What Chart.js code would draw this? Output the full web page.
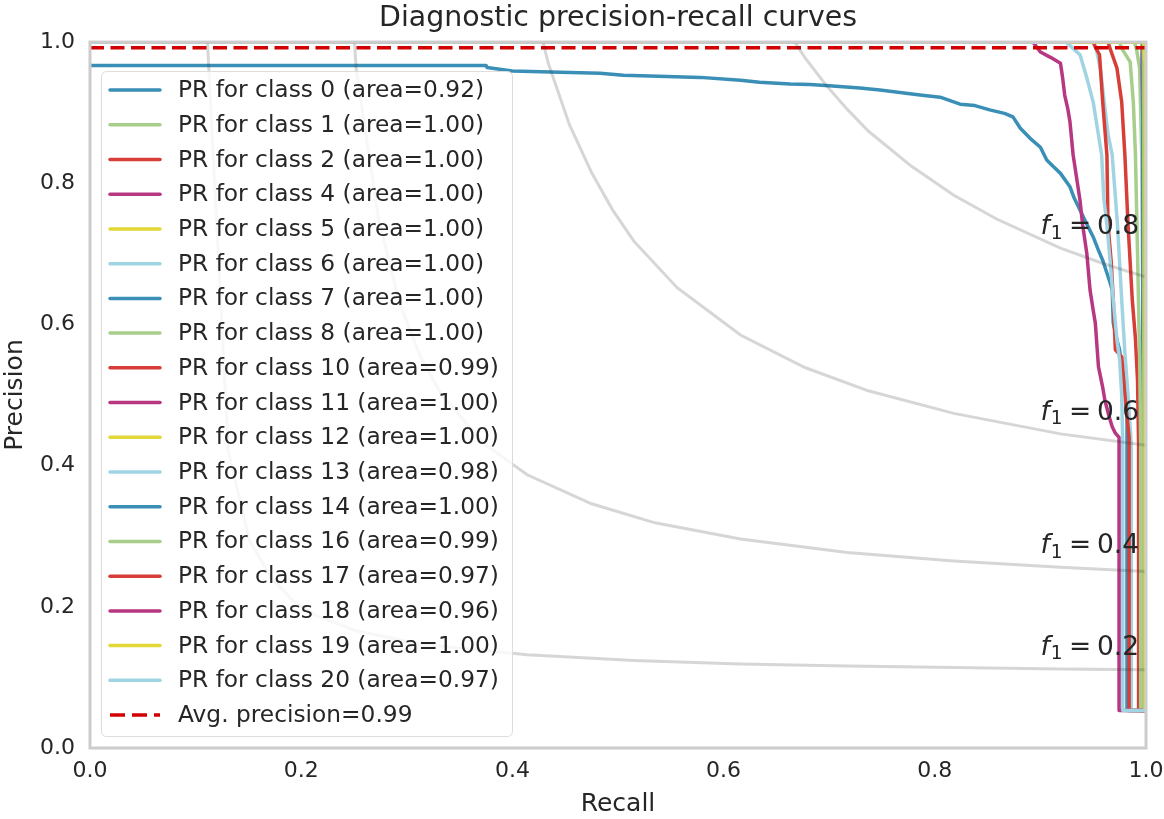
<!DOCTYPE html>
<html>
<head>
<meta charset="utf-8">
<script src="https://cdn.jsdelivr.net/npm/chart.js@4"></script>
<style>
  html, body { margin: 0; padding: 0; background: #fff; }
  #wrap { width: 1164px; height: 819px; position: relative; }
</style>
</head>
<body>
<div id="wrap"><canvas id="chart"></canvas></div>
<script>
// classes shown in the legend, with their reported areas
const classNames = ['0', '1', '2', '4', '5', '6', '7', '8', '10', '11', '12', '13', '14', '16', '17', '18', '19', '20'];
const classAreas = ['0.92', '1.00', '1.00', '1.00', '1.00', '1.00', '1.00', '1.00', '0.99', '1.00', '1.00', '0.98', '1.00', '0.99', '0.97', '0.96', '1.00', '0.97'];

// PR curves (recall, precision)
const pr0Recall = [0, 0.375, 0.376, 0.40, 0.436, 0.483, 0.505, 0.530, 0.578, 0.616, 0.634, 0.663, 0.682, 0.70, 0.729, 0.748, 0.786, 0.805, 0.824, 0.838, 0.852, 0.866, 0.874, 0.881, 0.890, 0.900, 0.906, 0.912, 0.919, 0.928, 0.932, 0.9375, 0.944, 0.950, 0.955, 0.959, 0.966, 0.968, 0.969, 0.9725, 0.975, 0.977, 0.980, 0.982, 0.982, 1.0];
const pr0Precision = [0.967, 0.967, 0.964, 0.959, 0.9575, 0.956, 0.953, 0.952, 0.950, 0.946, 0.943, 0.9405, 0.940, 0.938, 0.935, 0.932, 0.925, 0.922, 0.912, 0.910, 0.904, 0.899, 0.894, 0.878, 0.864, 0.851, 0.833, 0.824, 0.814, 0.795, 0.779, 0.762, 0.742, 0.724, 0.705, 0.691, 0.659, 0.649, 0.602, 0.578, 0.564, 0.535, 0.525, 0.49, 0.053, 0.053];
const pr1Recall = [0, 0.989, 0.991, 0.994, 0.996, 0.997, 0.997, 1.0];
const pr1Precision = [1, 1, 0.99, 0.963, 0.84, 0.6, 0.053, 0.053];
const pr2Recall = [0, 0.998, 0.998, 1.0];
const pr2Precision = [1, 1, 0.053, 0.053];
const pr4Recall = [0, 0.996, 0.997, 0.997, 1.0];
const pr4Precision = [1, 1, 0.89, 0.053, 0.053];
const pr5Recall = [0, 0.996, 0.998, 0.998, 1.0];
const pr5Precision = [1, 1, 0.95, 0.053, 0.053];
const pr6Recall = [0, 0.998, 0.998, 1.0];
const pr6Precision = [1, 1, 0.053, 0.053];
const pr7Recall = [0, 0.997, 0.997, 1.0];
const pr7Precision = [1, 1, 0.053, 0.053];
const pr8Recall = [0, 0.998, 0.998, 1.0];
const pr8Precision = [1, 1, 0.053, 0.053];
const pr10Recall = [0, 0.964, 0.966, 0.9725, 0.977, 0.980, 0.983, 0.987, 0.990, 0.992, 0.993, 0.993, 1.0];
const pr10Precision = [1, 1, 0.991, 0.963, 0.915, 0.840, 0.741, 0.635, 0.58, 0.52, 0.43, 0.053, 0.053];
const pr11Recall = [0, 0.999, 0.999, 1.0];
const pr11Precision = [1, 1, 0.053, 0.053];
const pr12Recall = [0, 0.999, 0.999, 1.0];
const pr12Precision = [1, 1, 0.053, 0.053];
const pr13Recall = [0, 0.950, 0.953, 0.957, 0.960, 0.964, 0.968, 0.973, 0.977, 0.980, 0.983, 0.986, 0.986, 1.0];
const pr13Precision = [1, 1, 0.99, 0.96, 0.92, 0.87, 0.84, 0.741, 0.635, 0.56, 0.50, 0.43, 0.053, 0.053];
const pr14Recall = [0, 0.999, 0.999, 1.0];
const pr14Precision = [1, 1, 0.053, 0.053];
const pr16Recall = [0, 0.975, 0.977, 0.985, 0.988, 0.990, 0.992, 0.994, 0.995, 0.995, 1.0];
const pr16Precision = [1, 1, 0.991, 0.972, 0.915, 0.840, 0.70, 0.55, 0.43, 0.053, 0.053];
const pr17Recall = [0, 0.950, 0.952, 0.956, 0.959, 0.963, 0.964, 0.967, 0.969, 0.971, 0.977, 0.980, 0.984, 0.984, 1.0];
const pr17Precision = [1, 1, 0.993, 0.982, 0.915, 0.840, 0.741, 0.690, 0.635, 0.564, 0.554, 0.50, 0.44, 0.053, 0.053];
const pr18Recall = [0, 0.893, 0.900, 0.910, 0.919, 0.921, 0.923, 0.926, 0.928, 0.931, 0.9375, 0.940, 0.944, 0.947, 0.950, 0.952, 0.955, 0.959, 0.961, 0.965, 0.968, 0.971, 0.9745, 0.9745, 1.0];
const pr18Precision = [1.0, 1.0, 0.986, 0.978, 0.970, 0.950, 0.925, 0.905, 0.887, 0.840, 0.776, 0.741, 0.700, 0.649, 0.620, 0.602, 0.540, 0.511, 0.493, 0.470, 0.455, 0.446, 0.440, 0.053, 0.053];
const pr19Recall = [0, 0.998, 0.999, 0.999, 1.0];
const pr19Precision = [1, 1, 0.97, 0.053, 0.053];
const pr20Recall = [0, 0.924, 0.928, 0.9375, 0.944, 0.950, 0.955, 0.958, 0.960, 0.963, 0.966, 0.969, 0.9725, 0.975, 0.977, 0.978, 0.978, 1.0];
const pr20Precision = [1, 1, 0.995, 0.982, 0.949, 0.915, 0.868, 0.840, 0.780, 0.741, 0.690, 0.635, 0.578, 0.55, 0.50, 0.43, 0.053, 0.053];

// average precision line
const avgLabel = 'Avg. precision=0.99';
const avgRecall = [0, 1];
const avgPrecision = [0.992, 0.992];

// iso-f1 reference curves
const isoValues = [0.2, 0.4, 0.6, 0.8];
const iso02Recall = [0.111, 0.131, 0.151, 0.172, 0.192, 0.212, 0.252, 0.313, 0.414, 0.515, 0.616, 0.717, 0.818, 0.919, 1.0];
const iso02Precision = [1.007, 0.420, 0.294, 0.240, 0.209, 0.189, 0.166, 0.147, 0.132, 0.124, 0.119, 0.116, 0.114, 0.112, 0.111];
const iso04Recall = [0.212, 0.232, 0.252, 0.273, 0.293, 0.313, 0.333, 0.374, 0.414, 0.475, 0.535, 0.616, 0.717, 0.818, 0.919, 1.0];
const iso04Precision = [3.52, 1.441, 0.963, 0.751, 0.631, 0.554, 0.500, 0.430, 0.387, 0.346, 0.319, 0.296, 0.277, 0.265, 0.256, 0.250];
const iso06Recall = [0.313, 0.333, 0.353, 0.374, 0.394, 0.414, 0.434, 0.454, 0.475, 0.495, 0.515, 0.556, 0.616, 0.677, 0.737, 0.818, 0.919, 1.0];
const iso06Precision = [7.19, 3.005, 1.983, 1.522, 1.259, 1.089, 0.970, 0.883, 0.815, 0.762, 0.718, 0.652, 0.585, 0.539, 0.506, 0.474, 0.445, 0.429];
const iso08Recall = [0.414, 0.434, 0.454, 0.475, 0.495, 0.515, 0.535, 0.556, 0.576, 0.596, 0.616, 0.636, 0.657, 0.677, 0.697, 0.717, 0.737, 0.778, 0.818, 0.859, 0.919, 0.960, 1.0];
const iso08Precision = [11.76, 5.066, 3.336, 2.542, 2.086, 1.790, 1.583, 1.429, 1.311, 1.217, 1.140, 1.077, 1.024, 0.978, 0.939, 0.905, 0.874, 0.824, 0.783, 0.749, 0.708, 0.686, 0.667];
const isoLabelRecall = [0.9, 0.9, 0.9, 0.9];
const isoLabelPrecision = [0.132, 0.276, 0.465, 0.728];

const recalls = [pr0Recall, pr1Recall, pr2Recall, pr4Recall, pr5Recall, pr6Recall, pr7Recall, pr8Recall, pr10Recall, pr11Recall, pr12Recall, pr13Recall, pr14Recall, pr16Recall, pr17Recall, pr18Recall, pr19Recall, pr20Recall];
const precisions = [pr0Precision, pr1Precision, pr2Precision, pr4Precision, pr5Precision, pr6Precision, pr7Precision, pr8Precision, pr10Precision, pr11Precision, pr12Precision, pr13Precision, pr14Precision, pr16Precision, pr17Precision, pr18Precision, pr19Precision, pr20Precision];
const isoRecalls = [iso02Recall, iso04Recall, iso06Recall, iso08Recall];
const isoPrecisions = [iso02Precision, iso04Precision, iso06Precision, iso08Precision];

const palette = ['#3a8fb7', '#a8ce8b', '#d73e38', '#b73782', '#e2d638', '#a0d4e2'];
const textColor = '#262626';
const FONT = '"DejaVu Sans", sans-serif';

function toPoints(rec, prec) {
  return rec.map((r, i) => ({ x: r, y: prec[i] }));
}

const datasets = classNames.map((name, i) => ({
  label: `PR for class ${name} (area=${classAreas[i]})`,
  data: toPoints(recalls[i], precisions[i]),
  borderColor: palette[i % palette.length],
  borderWidth: 3.5,
  borderCapStyle: 'round',
  borderJoinStyle: 'round',
  pointRadius: 0,
  tension: 0,
  fill: false,
  clip: 0,
  order: 100 - i,
  inLegend: true
}));

datasets.push({
  label: avgLabel,
  data: toPoints(avgRecall, avgPrecision),
  borderColor: '#d20000',
  borderWidth: 3.5,
  borderDash: [14, 6.5],
  pointRadius: 0,
  fill: false,
  clip: 0,
  order: 5,
  inLegend: true
});

isoValues.forEach((f, i) => {
  datasets.push({
    label: 'iso f1 ' + f,
    data: toPoints(isoRecalls[i], isoPrecisions[i]),
    borderColor: 'rgba(51,51,51,0.2)',
    borderWidth: 3,
    pointRadius: 0,
    tension: 0,
    fill: false,
    clip: 0,
    order: 1,
    inLegend: false
  });
});

function drawF1Label(ctx, px, py, value) {
  const size = 26.5;
  ctx.fillStyle = textColor;
  ctx.textAlign = 'left';
  ctx.textBaseline = 'alphabetic';
  ctx.font = `italic ${size}px ${FONT}`;
  ctx.fillText('f', px, py);
  let cx = px + ctx.measureText('f').width + 1;
  ctx.font = `${size * 0.7}px ${FONT}`;
  ctx.fillText('1', cx, py + 4.5);
  cx += ctx.measureText('1').width + 0.24 * size;
  ctx.font = `${size}px ${FONT}`;
  ctx.fillText('=', cx, py);
  cx += ctx.measureText('=').width + 0.22 * size;
  ctx.fillText(value.toFixed(1), cx, py);
}

const overlay = {
  id: 'overlay',
  afterDatasetsDraw(chart) {
    const { ctx, chartArea: a, scales: { x, y } } = chart;
    ctx.save();

    // f1 annotations
    isoValues.forEach((f, i) => {
      drawF1Label(ctx, x.getPixelForValue(isoLabelRecall[i]), y.getPixelForValue(isoLabelPrecision[i]), f);
    });

    // axes frame
    ctx.strokeStyle = '#cccccc';
    ctx.lineWidth = 3;
    ctx.strokeRect(a.left, a.top, a.right - a.left, a.bottom - a.top);

    // legend
    const entries = chart.data.datasets.filter(d => d.inLegend);
    const boxL = a.left + 11.5, boxT = a.top + 29.5, boxW = 411, boxH = 665;
    ctx.beginPath();
    ctx.roundRect(boxL, boxT, boxW, boxH, 5);
    ctx.fillStyle = 'rgba(255,255,255,0.8)';
    ctx.fill();
    ctx.strokeStyle = '#dcdcdc';
    ctx.lineWidth = 1;
    ctx.stroke();

    const rowY0 = a.top + 48, rowH = 34.72;
    ctx.font = `23.3px ${FONT}`;
    ctx.textBaseline = 'middle';
    ctx.textAlign = 'left';
    entries.forEach((d, i) => {
      const ry = rowY0 + i * rowH;
      ctx.beginPath();
      ctx.strokeStyle = d.borderColor;
      ctx.lineWidth = 3.5;
      if (d.borderDash) {
        ctx.setLineDash([15, 7]);
        ctx.lineCap = 'butt';
      } else {
        ctx.setLineDash([]);
        ctx.lineCap = 'round';
      }
      ctx.moveTo(a.left + 20, ry);
      ctx.lineTo(a.left + 70, ry);
      ctx.stroke();
      ctx.setLineDash([]);
      ctx.fillStyle = textColor;
      ctx.fillText(d.label, a.left + 88, ry + 1);
    });
    ctx.restore();
  }
};

Chart.defaults.font.family = FONT;
Chart.defaults.color = textColor;

new Chart(document.getElementById('chart').getContext('2d'), {
  type: 'line',
  data: { datasets },
  options: {
    responsive: true,
    maintainAspectRatio: false,
    animation: false,
    layout: { padding: { left: 0, right: 18, top: 0, bottom: 0 } },
    plugins: {
      legend: { display: false },
      tooltip: { enabled: false },
      title: {
        display: true,
        fullSize: false,
        text: 'Diagnostic precision-recall curves',
        color: textColor,
        font: { family: FONT, size: 28.4, weight: 'normal' },
        padding: { top: 2, bottom: 6 }
      }
    },
    scales: {
      x: {
        type: 'linear',
        min: 0,
        max: 1,
        grid: { display: false, drawTicks: false },
        border: { display: false },
        ticks: {
          stepSize: 0.2,
          padding: 10,
          maxRotation: 0,
          color: textColor,
          font: { size: 22 },
          callback: v => v.toFixed(1)
        },
        title: {
          display: true,
          text: 'Recall',
          color: textColor,
          font: { size: 25 },
          padding: { top: 0, bottom: 0 }
        },
        afterFit: s => { s.height = 71; s.paddingRight = 0; s.paddingLeft = 0; }
      },
      y: {
        type: 'linear',
        min: 0,
        max: 1,
        grid: { display: false, drawTicks: false },
        border: { display: false },
        ticks: {
          stepSize: 0.2,
          padding: 15,
          color: textColor,
          font: { size: 22 },
          callback: v => v.toFixed(1)
        },
        title: {
          display: true,
          text: 'Precision',
          color: textColor,
          font: { size: 25 },
          padding: { top: 0, bottom: 0 }
        },
        afterFit: s => { s.width = 90; }
      }
    }
  },
  plugins: [overlay]
});
</script>
</body>
</html>
